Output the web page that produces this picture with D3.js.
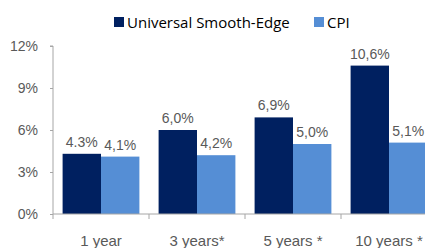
<!DOCTYPE html>
<html>
<head>
<meta charset="utf-8">
<script src="https://cdn.jsdelivr.net/npm/d3@7"></script>
<style>
  body { margin: 0; background: #fff; }
  svg { display: block; }
</style>
</head>
<body>
<div id="chart"></div>
<script>
const categories = ['1 year', '3 years*', '5 years *', '10 years *'];
const seriesNames = ['Universal Smooth-Edge', 'CPI'];
const smoothEdge = [4.3, 6.0, 6.9, 10.6];
const cpi = [4.1, 4.2, 5.0, 5.1];
const smoothEdgeLabels = ['4.3%', '6,0%', '6,9%', '10,6%'];
const cpiLabels = ['4,1%', '4,2%', '5,0%', '5,1%'];
const yTicks = [0, 3, 6, 9, 12];
const colors = ['#002060', '#558ed5'];

const width = 425;
const height = 248;
const margin = { top: 46, left: 53, bottom: 34 };

const svg = d3.select('#chart')
  .append('svg')
  .attr('width', width)
  .attr('height', height);

// plot runs past the right edge, like the clipped original
const x = d3.scaleBand()
  .domain(categories)
  .range([margin.left, margin.left + 96 * categories.length])
  .paddingInner(0.2)
  .paddingOuter(0.1);

const xs = d3.scaleBand()
  .domain(seriesNames)
  .range([0, x.bandwidth()]);

const y = d3.scaleLinear()
  .domain([0, 12])
  .range([height - margin.bottom, margin.top]);

const rows = categories.map((c, i) => ({
  cat: c,
  vals: [
    { key: seriesNames[0], v: smoothEdge[i], label: smoothEdgeLabels[i] },
    { key: seriesNames[1], v: cpi[i], label: cpiLabels[i] }
  ]
}));

const groups = svg.selectAll('.grp')
  .data(rows)
  .enter()
  .append('g')
  .attr('class', 'grp')
  .attr('transform', (d) => `translate(${x(d.cat)},0)`);

groups.selectAll('rect')
  .data((d) => d.vals)
  .enter()
  .append('rect')
  .attr('x', (d) => xs(d.key))
  .attr('y', (d) => y(d.v))
  .attr('width', xs.bandwidth())
  .attr('height', (d) => y(0) - y(d.v))
  .attr('fill', (d, i) => colors[i]);

groups.selectAll('text')
  .data((d) => d.vals)
  .enter()
  .append('text')
  .attr('x', (d) => xs(d.key) + xs.bandwidth() / 2)
  .attr('y', (d) => y(d.v) - 7)
  .attr('text-anchor', 'middle')
  .attr('font-family', 'Liberation Sans, Arial, sans-serif')
  .attr('font-size', 14)
  .attr('fill', '#595959')
  .text((d) => d.label);

// y axis
const yAxis = svg.append('g')
  .attr('transform', `translate(${margin.left},0)`)
  .call(d3.axisLeft(y).tickValues(yTicks).tickSize(3).tickPadding(12)
    .tickFormat((d) => d + '%'));
yAxis.select('.domain').attr('stroke', '#a6a6a6').attr('d', `M-3,${y(12)}H0V${y(0)}`);
yAxis.selectAll('line').attr('stroke', '#a6a6a6');
yAxis.selectAll('text')
  .attr('font-family', 'Liberation Sans, Arial, sans-serif')
  .attr('font-size', 14)
  .attr('fill', '#595959');

// x axis - labels sit low and get clipped at the bottom like the original
const xAxis = svg.append('g')
  .attr('transform', `translate(0,${y(0)})`)
  .call(d3.axisBottom(x).tickSize(0).tickPadding(21));
xAxis.select('.domain').attr('stroke', '#a6a6a6').attr('d', `M${margin.left},0H${width}`);
xAxis.selectAll('text')
  .attr('font-family', 'Liberation Sans, Arial, sans-serif')
  .attr('font-size', 15)
  .attr('fill', '#595959');
xAxis.selectAll('.sep')
  .data(categories)
  .enter()
  .append('line')
  .attr('class', 'sep')
  .attr('x1', (d) => x(d) - x.step() * 0.1)
  .attr('x2', (d) => x(d) - x.step() * 0.1)
  .attr('y1', 0)
  .attr('y2', 5)
  .attr('stroke', '#a6a6a6');

// legend
const legend = svg.append('g')
  .attr('font-family', 'Open Sans, sans-serif')
  .attr('font-size', 15);
const legendX = [114, 314];
seriesNames.forEach((name, i) => {
  legend.append('rect')
    .attr('x', legendX[i])
    .attr('y', 17)
    .attr('width', 10)
    .attr('height', 10)
    .attr('fill', colors[i]);
  legend.append('text')
    .attr('x', legendX[i] + 13)
    .attr('y', 28)
    .attr('fill', '#000')
    .text(name);
});
</script>
</body>
</html>
